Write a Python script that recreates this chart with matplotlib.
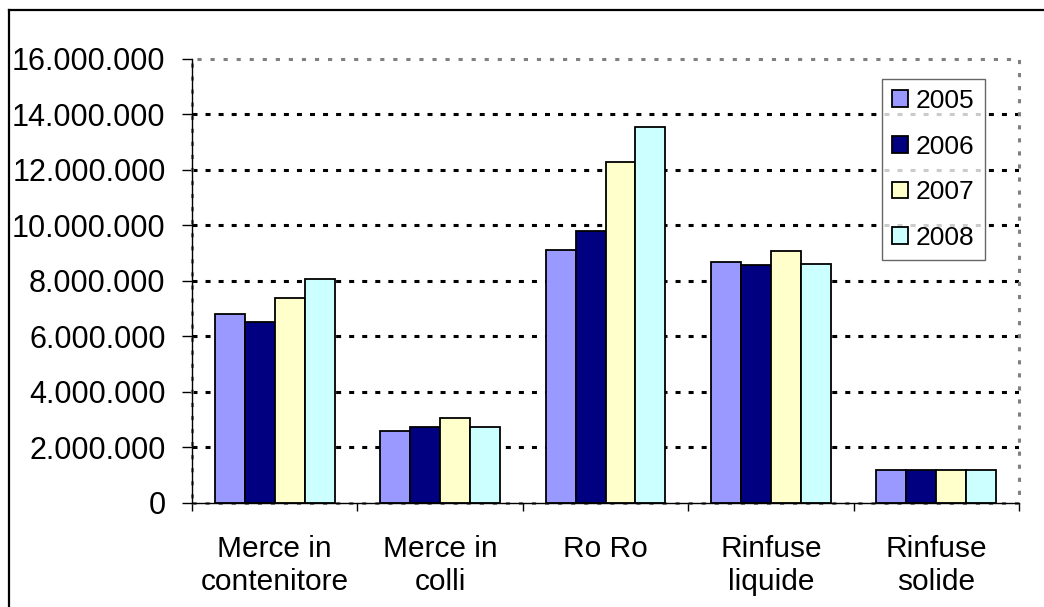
import numpy as np
import matplotlib
matplotlib.use("Agg")
import matplotlib.pyplot as plt
from matplotlib.patches import Rectangle
from matplotlib.lines import Line2D
from matplotlib.ticker import FuncFormatter

categories = ["Merce in\ncontenitore", "Merce in\ncolli", "Ro Ro", "Rinfuse\nliquide", "Rinfuse\nsolide"]
years = ["2005", "2006", "2007", "2008"]
v2005 = [6820000, 2580000, 9090000, 8680000, 1170000]
v2006 = [6500000, 2740000, 9780000, 8550000, 1170000]
v2007 = [7370000, 3050000, 12290000, 9060000, 1170000]
v2008 = [8080000, 2740000, 13540000, 8620000, 1170000]
series = [v2005, v2006, v2007, v2008]
colors = ["#9999FF", "#000080", "#FFFFCC", "#CCFFFF"]
yticks = np.arange(0, 16000001, 2000000)

plt.rcParams["font.family"] = ["Liberation Sans", "DejaVu Sans"]
plt.rcParams["lines.scale_dashes"] = False

fig = plt.figure(figsize=(10.44, 6.07), dpi=100)
ax = fig.add_axes([192 / 1044, 1 - 503 / 607, 827 / 1044, 444.5 / 607])

x = np.arange(len(categories))
w = 0.181
for i, (vals, c, yr) in enumerate(zip(series, colors, years)):
    ax.bar(x + (i - 1.5) * w, vals, width=w, color=c, edgecolor="black",
           linewidth=1.3, label=yr, zorder=3)

ax.set_xlim(-0.5, len(categories) - 0.5)
ax.set_ylim(0, 16000000)
ax.set_yticks(yticks)
ax.yaxis.set_major_formatter(FuncFormatter(lambda v, p: f"{int(v):,}".replace(",", ".")))
ax.tick_params(axis="y", direction="out", length=7, width=1, pad=12, labelsize=22)

# boundaries get the tick marks, category names sit on minor ticks
ax.set_xticks(np.arange(-0.5, len(categories), 1.0))
ax.set_xticklabels([])
ax.tick_params(axis="x", which="major", direction="out", length=6, width=1)
ax.set_xticks(x, minor=True)
ax.set_xticklabels(categories, minor=True, fontsize=21.5, linespacing=1.25)
ax.tick_params(axis="x", which="minor", length=0, pad=23)

# dotted black grid, not at 0 and not at the top
ax.yaxis.grid(True, color="black", linewidth=2.2, linestyle=(0, (3.6, 5.8)), zorder=1)
gl = ax.yaxis.get_gridlines()
gl[0].set_visible(False)
gl[-1].set_visible(False)

# gray dotted plot-area frame
for s in ["top", "right"]:
    ax.spines[s].set_visible(False)
ax.add_patch(Rectangle((0, 0), 1, 1, transform=ax.transAxes, fill=False,
                       edgecolor="#808080", linewidth=2.2,
                       linestyle=(0, (3, 6.4)), clip_on=False, zorder=2))
for s in ["left", "bottom"]:
    ax.spines[s].set_linewidth(1)
    ax.spines[s].set_zorder(4)

leg = ax.legend(loc="upper left", bbox_to_anchor=((882 - 192) / 827, (503 - 79) / 444.5),
                borderaxespad=0, fontsize=19, frameon=True, fancybox=False,
                edgecolor="#404040", handlelength=0.6, handleheight=0.6,
                labelspacing=0.82, handletextpad=0.3, borderpad=0.38)
leg.get_frame().set_linewidth(1)
leg.set_zorder(5)

# outer chart border (only left and top visible in the crop)
fig.add_artist(Line2D([9 / 1044, 9 / 1044], [0, 1 - 10 / 607], color="black",
                      linewidth=1.6, transform=fig.transFigure))
fig.add_artist(Line2D([9 / 1044, 1], [1 - 10 / 607, 1 - 10 / 607], color="black",
                      linewidth=1.6, transform=fig.transFigure))

fig.savefig("out.png", dpi=100)
